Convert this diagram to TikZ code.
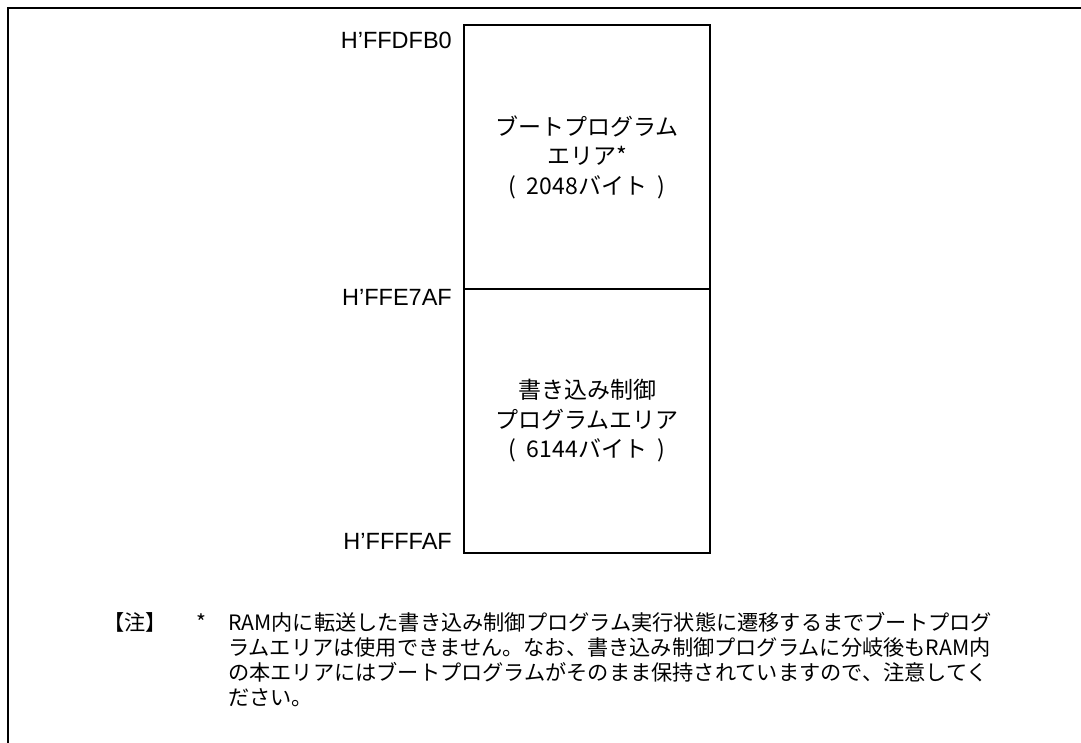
\documentclass[tikz,border=0pt]{standalone}
\usepackage{fontspec}
\setmainfont{Liberation Sans}
\newfontfamily\jpfont{Noto Sans CJK JP}
\newcommand{\sq}{{\char"27}}
\newcommand{\pgap}{\hspace{0.45em}}
\begin{document}
\begin{tikzpicture}[x=1pt,y=-1pt,
  frame/.style={line width=2pt},
  area/.style={draw, line width=1.2pt, minimum width=246pt, minimum height=264pt,
    inner sep=0pt, align=center, font=\jpfont\fontsize{23}{29.5}\selectfont},
  addr/.style={anchor=east, inner sep=0pt, font=\fontsize{23.5}{28}\selectfont},
  note/.style={anchor=base west, inner sep=0pt, font=\jpfont\fontsize{21.2}{25}\selectfont}]
\useasboundingbox (0,0) rectangle (1081,743);
\fill[white] (0,0) rectangle (1081,743);
\draw[frame] (1081,7.7) -- (7.7,7.7) -- (7.7,743);

\node[area] (boot) at (587,157) {ブートプログラム\\エリア*\\(\pgap 2048バイト\pgap)};
\node[area] (write) at (587,421) {書き込み制御\\プログラムエリア\\(\pgap 6144バイト\pgap)};

\node[addr] (a1) at (452,40) {H\sq FFDFB0};
\node[addr] (a2) at (452,297) {H\sq FFE7AF};
\node[addr] (a3) at (452,541) {H\sq FFFFAF};

\node[note] (n0) at (103,630) {【注】};
\node[note] (ns) at (196,630) {*};
\node[note] (n1) at (228,630) {RAM内に転送した書き込み制御プログラム実行状態に遷移するまでブートプログ};
\node[note] (n2) at (228,655) {ラムエリアは使用できません。なお、書き込み制御プログラムに分岐後もRAM内};
\node[note] (n3) at (228,680) {の本エリアにはブートプログラムがそのまま保持されていますので、注意してく};
\node[note] (n4) at (228,705) {ださい。};
\end{tikzpicture}
\end{document}
